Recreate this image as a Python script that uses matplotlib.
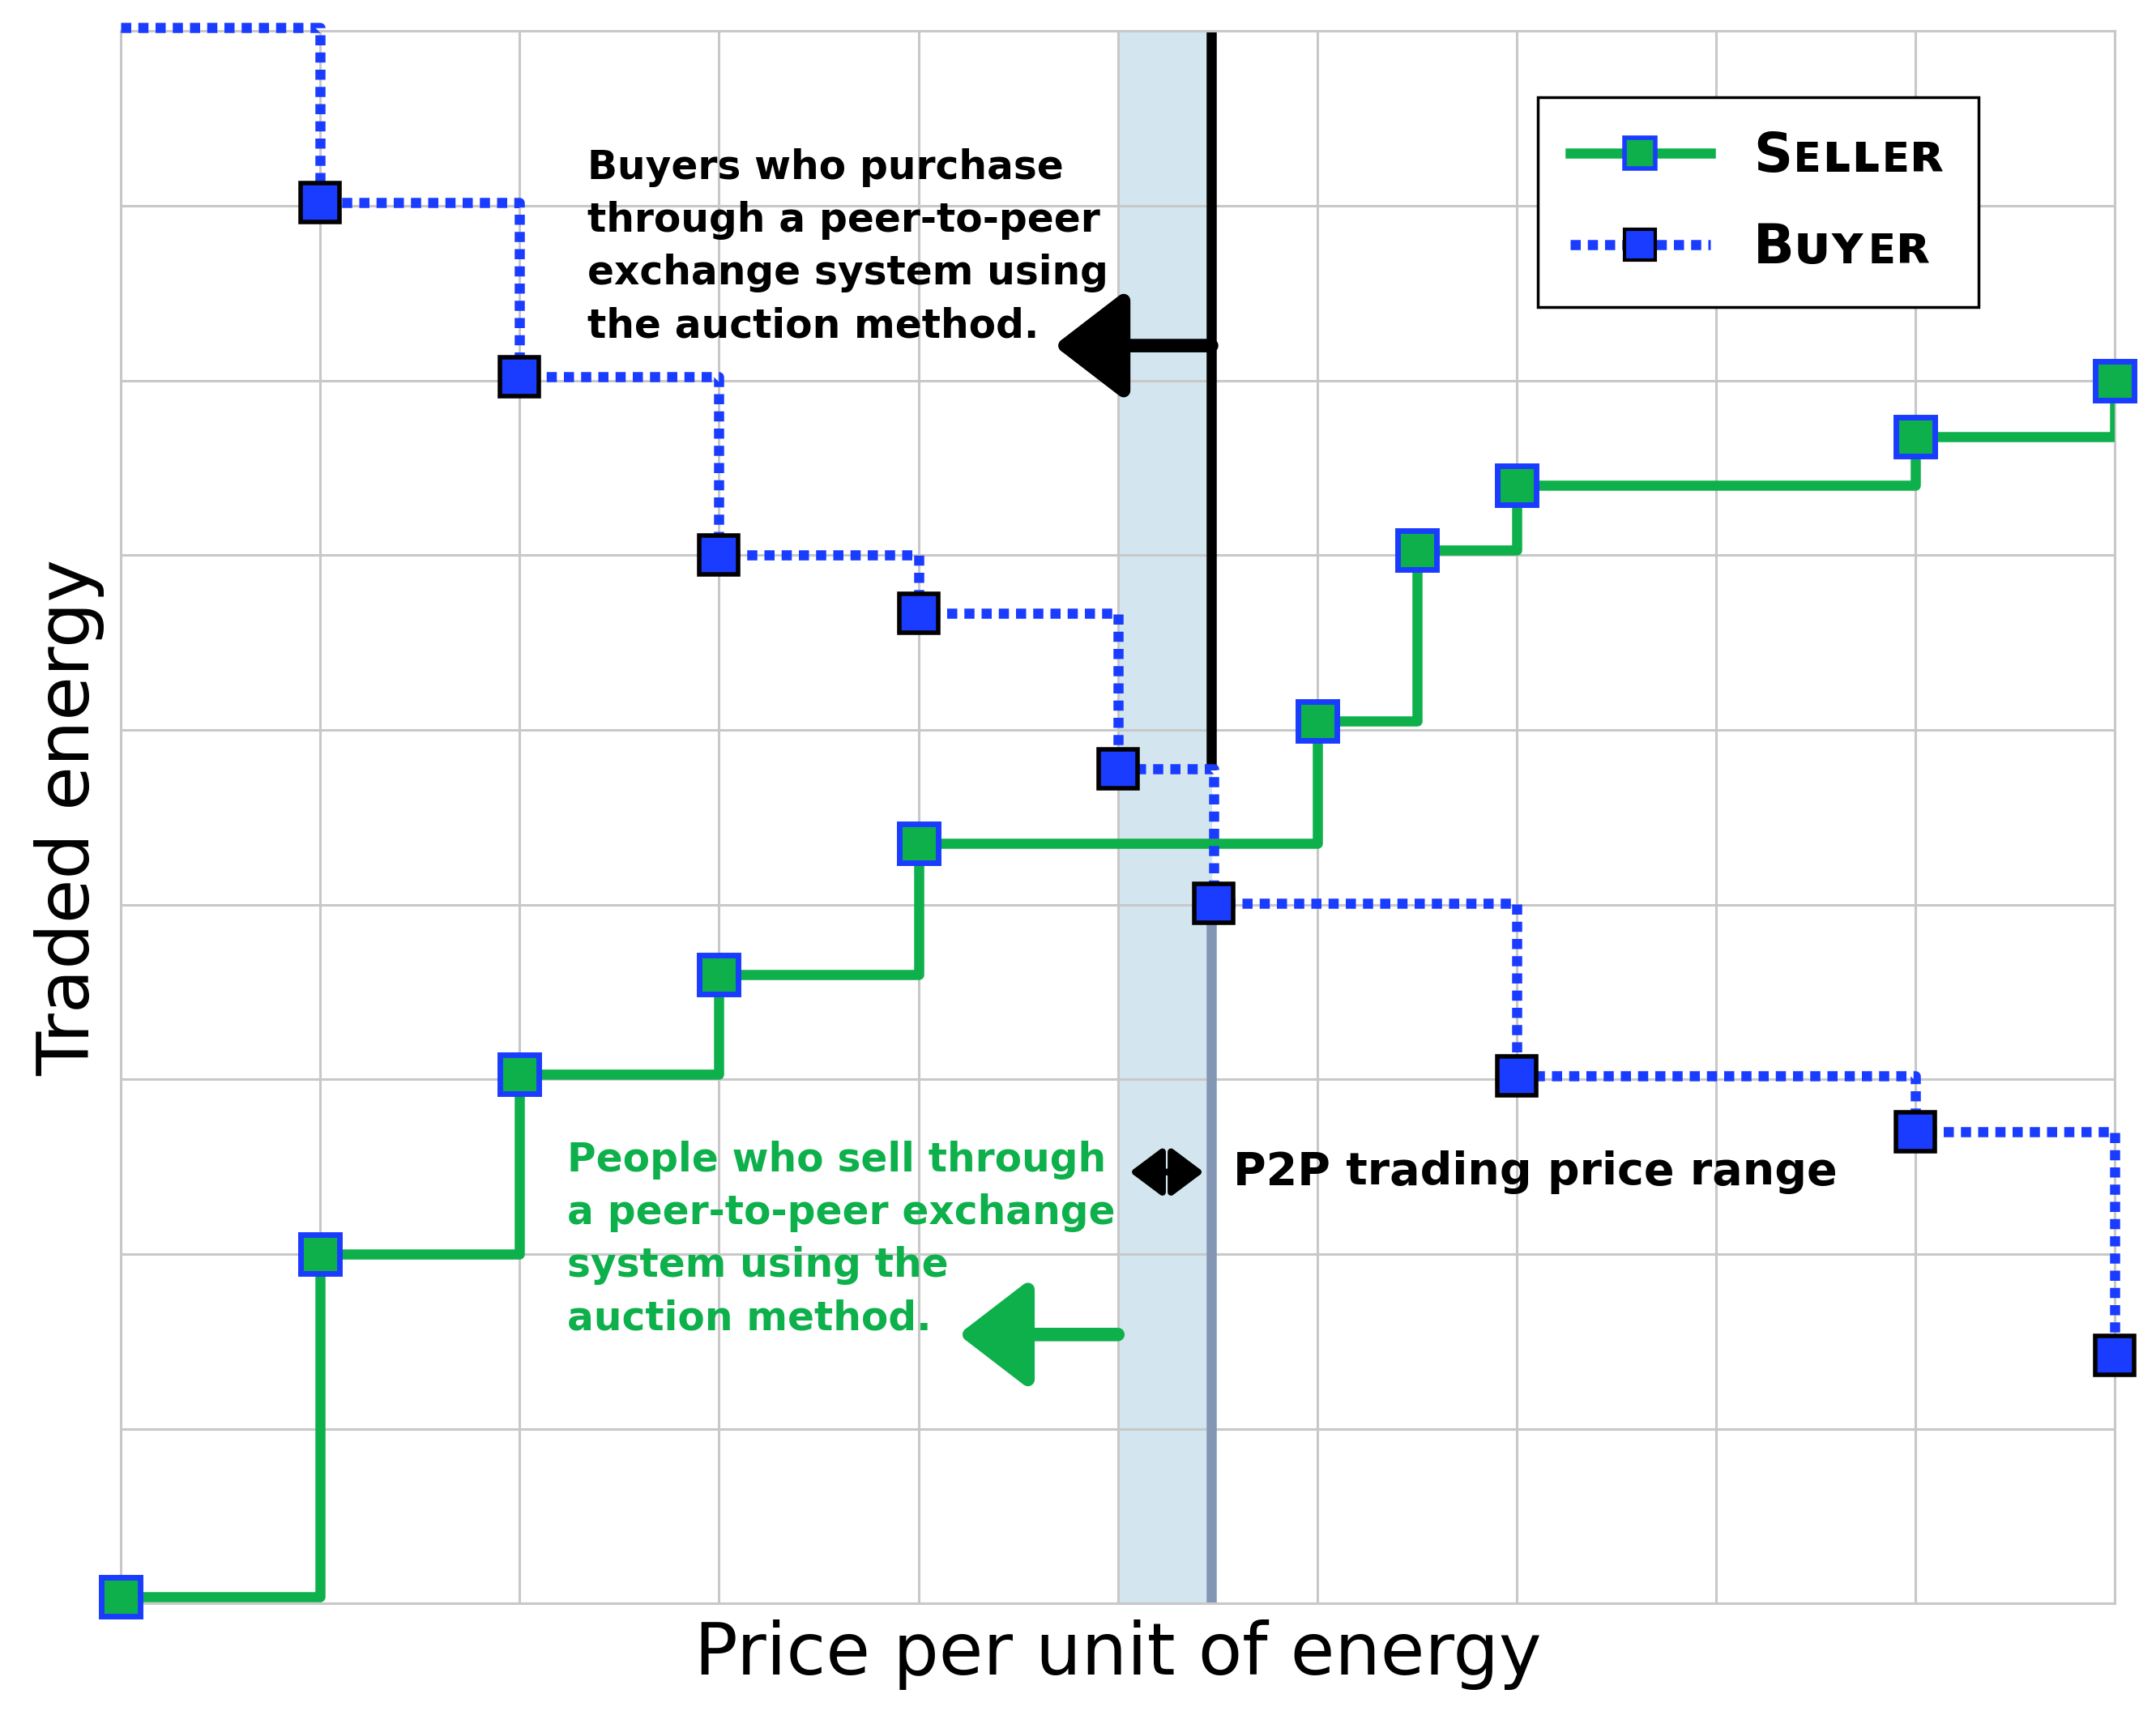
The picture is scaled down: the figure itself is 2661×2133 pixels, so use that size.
import matplotlib.pyplot as plt
from matplotlib.patches import FancyArrowPatch

# data (grid units: x 0..10 price, y 0..9 energy)
seller_x = [0, 1, 2, 3, 4, 6, 6.5, 7, 9, 10]
seller_y = [0.04, 2.0, 3.03, 3.6, 4.35, 5.05, 6.03, 6.4, 6.68, 7.0]
buyer_x = [0, 1, 2, 3, 4, 5, 5.48, 7, 9, 10]
buyer_y = [9.02, 8.02, 7.02, 6.0, 5.67, 4.78, 4.01, 3.02, 2.7, 1.42]
band = (5.0, 5.47)

GREEN = "#0db04b"
BLUE = "#1a3cff"

fig = plt.figure(figsize=(26.61, 21.33), dpi=100)
ax = fig.add_axes([0.056, 0.072, 0.925, 0.91])
ax.set_xlim(0, 10)
ax.set_ylim(0, 9)
ax.set_xticks(range(11))
ax.set_yticks(range(10))
ax.grid(True, color="#c8c8c8", lw=2.2)
ax.tick_params(length=0, labelbottom=False, labelleft=False)
for s in ax.spines.values():
    s.set_color("#c8c8c8")
    s.set_linewidth(2.2)

ax.axvspan(*band, color="#d3e6ef", zorder=1)
ax.plot([band[1], band[1]], [4.8, 9], color="black", lw=9, zorder=2)
ax.plot([band[1], band[1]], [0, 4.0], color="#8396b3", lw=9, zorder=2)

# seller: horizontal then up
ax.step(seller_x, seller_y, where="post", color=GREEN, lw=9, zorder=3)
ax.plot(seller_x, seller_y, ls="none", marker="s", ms=34, mfc=GREEN, mec=BLUE, mew=5, zorder=5,
        clip_on=False)
# buyer: horizontal then down
ax.step(buyer_x, buyer_y, where="post", color=BLUE, lw=9, ls=(0, (1, 0.7)), zorder=3, clip_on=False)
ax.plot(buyer_x[1:], buyer_y[1:], ls="none", marker="s", ms=34, mfc=BLUE, mec="black", mew=4, zorder=5,
        clip_on=False)

# legend handles
h1, = ax.plot([], [], color=GREEN, lw=9, marker="s", ms=28, mfc=GREEN, mec=BLUE, mew=4)
h2, = ax.plot([], [], color=BLUE, lw=9, ls=(0, (1, 0.7)), marker="s", ms=28, mfc=BLUE, mec="black", mew=3)
leg = ax.legend([h1, h2], ["Sᴇʟʟᴇʀ", "Bᴜʏᴇʀ"], loc="upper right", bbox_to_anchor=(0.945, 0.975),
                prop={"weight": "bold", "size": 48}, fancybox=False, edgecolor="black",
                framealpha=1, handlelength=2.6, borderpad=0.6, labelspacing=0.7)
leg.get_frame().set_linewidth(2.5)

ax.add_patch(FancyArrowPatch((band[1], 7.2), (4.68, 7.2), arrowstyle="-|>,head_length=1.3,head_width=1.0",
                             mutation_scale=40, color="black", lw=12, zorder=6, shrinkA=0, shrinkB=0))
ax.add_patch(FancyArrowPatch((5.0, 1.54), (4.2, 1.54), arrowstyle="-|>,head_length=1.3,head_width=1.0",
                             mutation_scale=40, color=GREEN, lw=12, zorder=6, shrinkA=0, shrinkB=0))
ax.add_patch(FancyArrowPatch((5.06, 2.47), (5.43, 2.47), arrowstyle="<|-|>,head_length=0.8,head_width=0.6",
                             mutation_scale=30, color="black", lw=6, zorder=6, shrinkA=0, shrinkB=0))

ax.text(2.34, 8.33, "Buyers who purchase\nthrough a peer-to-peer\nexchange system using\nthe auction method.",
        fontsize=35, weight="bold", va="top", ha="left", linespacing=1.45, zorder=7)
ax.text(2.24, 2.65, "People who sell through\na peer-to-peer exchange\nsystem using the\nauction method.",
        fontsize=35, weight="bold", color=GREEN, va="top", ha="left", linespacing=1.45, zorder=7)
ax.text(5.58, 2.47, "P2P trading price range", fontsize=40, weight="bold", va="center", ha="left", zorder=7)

ax.set_xlabel("Price per unit of energy", fontsize=64, labelpad=14)
ax.set_ylabel("Traded energy", fontsize=64, labelpad=14)

fig.savefig("out.png")
